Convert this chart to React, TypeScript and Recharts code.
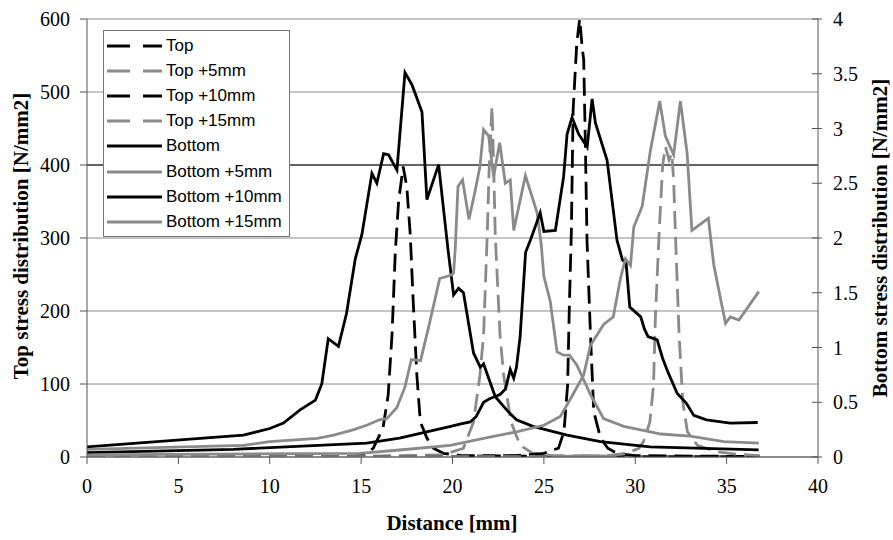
import { LineChart, Line, XAxis, YAxis, CartesianGrid, ReferenceLine, Legend } from 'recharts'

// distance [mm] vs stress; Top series on the left axis, Bottom series on the right axis
const xTicks = [0, 5, 10, 15, 20, 25, 30, 35, 40]
const topTicks = [0, 100, 200, 300, 400, 500, 600]
const bottomTicks = [0, 0.5, 1, 1.5, 2, 2.5, 3, 3.5, 4]

const top0: [number, number][] = [
    [0, 0.5], [10, 0.5], [14.5, 1], [15.2, 3], [15.66, 12], [16.2, 40], [16.48, 85], [16.69, 167], [16.87, 281],
    [17.05, 350], [17.3, 398], [17.5, 370], [17.69, 304], [17.85, 213], [18.05, 112], [18.24, 48], [18.6, 26],
    [18.95, 12], [19.5, 5], [20.5, 2], [25, 1], [30, 0.5], [36.8, 0.5],
]
const top5: [number, number][] = [
    [0, 0.5], [15, 1], [19.5, 3], [20.6, 12], [21.15, 48], [21.5, 112], [21.7, 167], [21.9, 304], [22.0, 390],
    [22.1, 450], [22.16, 480], [22.25, 400], [22.34, 304], [22.6, 167], [22.8, 112], [23.2, 48], [23.7, 16],
    [24.4, 5], [25.5, 2], [30, 1], [36.8, 0.5],
]
const top10: [number, number][] = [
    [0, 0.3], [20, 0.5], [23.5, 2], [25, 5], [25.4, 9], [25.8, 12], [26.1, 35], [26.3, 99], [26.4, 213],
    [26.5, 304], [26.6, 475], [26.8, 567], [26.96, 600], [27.1, 560], [27.18, 544], [27.27, 430], [27.36, 297],
    [27.55, 167], [27.73, 62], [28.1, 26], [28.5, 12], [29, 5], [30, 2], [36.8, 0.5],
]
const top15: [number, number][] = [
    [0, 0.3], [25, 0.5], [28.5, 2], [29.5, 5], [30.2, 12], [30.45, 21], [30.8, 48], [31.0, 99], [31.1, 190],
    [31.3, 304], [31.5, 400], [31.65, 425], [31.85, 407], [32.0, 416], [32.1, 380], [32.2, 304], [32.4, 167],
    [32.6, 76], [32.85, 35], [33.4, 16], [34.5, 7], [35.5, 4], [36.8, 2],
]

const bottom0: [number, number][] = [
    [0, 0.093], [8.56, 0.2], [10, 0.26], [10.75, 0.31], [11.66, 0.43], [12.5, 0.52], [12.85, 0.67], [13.2, 1.08],
    [13.76, 1.01], [14.2, 1.31], [14.68, 1.81], [15.04, 2.03], [15.59, 2.59], [15.86, 2.5], [16.23, 2.77],
    [16.5, 2.76], [16.96, 2.62], [17.4, 3.51], [17.78, 3.4], [18.33, 3.15], [18.6, 2.35], [19.24, 2.67],
    [19.75, 1.9], [20.06, 1.48], [20.33, 1.54], [20.6, 1.5], [21.15, 0.95], [21.52, 0.82], [21.7, 0.85],
    [22.34, 0.55], [23.07, 0.41], [23.5, 0.34], [24.4, 0.28], [26.27, 0.2], [28.1, 0.14], [30.8, 0.093],
    [36.75, 0.065],
]
const bottom5: [number, number][] = [
    [0, 0.07], [8.56, 0.107], [10, 0.14], [12.6, 0.17], [13.5, 0.2], [14.6, 0.25], [15.3, 0.29], [16, 0.34],
    [16.4, 0.35], [16.95, 0.45], [17.4, 0.64], [17.75, 0.89], [18.25, 0.88], [18.7, 1.19], [19.3, 1.63],
    [19.9, 1.66], [20.06, 1.68], [20.15, 1.9], [20.3, 2.47], [20.55, 2.53], [20.9, 2.17], [21.2, 2.4],
    [21.5, 2.65], [21.7, 2.99], [21.98, 2.93], [22.25, 2.56], [22.58, 2.87], [22.89, 2.5], [23.16, 2.53],
    [23.35, 2.07], [23.99, 2.57], [24.63, 2.23], [24.85, 1.95], [25.0, 1.65], [25.35, 1.42], [25.72, 0.96],
    [26.08, 0.93], [26.4, 0.93], [26.8, 0.84], [27.55, 0.57], [28.27, 0.35], [29.37, 0.28], [30.83, 0.23],
    [31.4, 0.21], [33, 0.19], [34.85, 0.14], [36.76, 0.127],
]
const bottom10: [number, number][] = [
    [0, 0.04], [8, 0.07], [15.3, 0.127], [17.1, 0.173], [19.9, 0.28], [20.4, 0.3], [20.97, 0.32], [21.3, 0.37],
    [21.7, 0.5], [22.0, 0.53], [22.3, 0.55], [22.6, 0.57], [22.9, 0.62], [23.16, 0.8], [23.35, 0.72],
    [23.5, 0.82], [23.7, 1.1], [24.0, 1.87], [24.26, 1.98], [24.8, 2.23], [25.0, 2.06], [25.63, 2.07],
    [26.08, 2.56], [26.27, 2.95], [26.54, 3.1], [26.9, 2.95], [27.37, 2.83], [27.64, 3.27], [27.82, 3.05],
    [28.46, 2.71], [29.0, 1.98], [29.3, 1.8], [29.5, 1.77], [29.7, 1.37], [30.3, 1.28], [30.5, 1.17],
    [30.7, 1.1], [31.2, 1.07], [31.5, 0.9], [31.8, 0.77], [32.3, 0.58], [32.8, 0.49], [33.2, 0.38],
    [33.9, 0.34], [35.2, 0.31], [36.7, 0.315],
]
const bottom15: [number, number][] = [
    [0, 0.02], [14.95, 0.033], [17.1, 0.064], [19.88, 0.107], [21.7, 0.17], [23.5, 0.23], [25, 0.29],
    [25.9, 0.37], [26.45, 0.53], [27.18, 0.75], [27.55, 1.02], [28.27, 1.21], [28.8, 1.28], [29.19, 1.63],
    [29.46, 1.81], [29.74, 1.75], [29.92, 2.1], [30.38, 2.29], [30.83, 2.8], [31.34, 3.25], [31.65, 2.93],
    [32.1, 2.76], [32.47, 3.25], [32.84, 2.77], [33.1, 2.07], [34.0, 2.18], [34.3, 1.75], [34.94, 1.22],
    [35.2, 1.28], [35.67, 1.25], [36.76, 1.51],
]

const BLACK = '#000000'
const GREY = '#8a8a8a'
const DASH = '18 8'
const SERIF = 'Liberation Serif, serif'
const SANS = 'Liberation Sans, Arial, sans-serif'

const series = [
    { name: 'Top', pts: top0, color: BLACK, dashed: true, axis: 'top' },
    { name: 'Top +5mm', pts: top5, color: GREY, dashed: true, axis: 'top' },
    { name: 'Top +10mm', pts: top10, color: BLACK, dashed: true, axis: 'top' },
    { name: 'Top +15mm', pts: top15, color: GREY, dashed: true, axis: 'top' },
    { name: 'Bottom', pts: bottom0, color: BLACK, dashed: false, axis: 'bottom' },
    { name: 'Bottom +5mm', pts: bottom5, color: GREY, dashed: false, axis: 'bottom' },
    { name: 'Bottom +10mm', pts: bottom10, color: BLACK, dashed: false, axis: 'bottom' },
    { name: 'Bottom +15mm', pts: bottom15, color: GREY, dashed: false, axis: 'bottom' },
]

const tickStyle = { fill: '#000', fontSize: 20, fontFamily: SERIF, style: { fontFamily: SERIF } }

const LegendBox = () => (
    <div
        style={{
            border: '1px solid #777',
            background: '#fff',
            width: 185,
            height: 203,
            paddingTop: 2,
            boxSizing: 'content-box',
            fontFamily: SANS,
            fontSize: 17,
            color: '#000',
        }}
    >
        {series.map((s) => (
            <div key={s.name} style={{ display: 'flex', alignItems: 'center', height: 25.2 }}>
                <svg width={62} height={10}>
                    <line
                        x1={3}
                        x2={58}
                        y1={5}
                        y2={5}
                        stroke={s.color}
                        strokeWidth={3}
                        strokeDasharray={s.dashed ? '23 13' : undefined}
                    />
                </svg>
                <span style={{ lineHeight: '20px' }}>{s.name}</span>
            </div>
        ))}
    </div>
)

const RightTick = (props: any) => {
    const { x, y, payload } = props
    return (
        <g>
            <line x1={x - 21} x2={x - 11} y1={y} y2={y} stroke="#555" />
            <text
                x={x}
                y={y}
                dy="0.35em"
                textAnchor="start"
                fill="#000"
                fontSize={20}
                fontFamily={SERIF}
                style={{ fontFamily: SERIF }}
            >
                {String(payload.value)}
            </text>
        </g>
    )
}

const titleProps = {
    fontSize: 21,
    fontWeight: 'bold',
    fontFamily: SERIF,
    fill: '#000',
    style: { fontFamily: SERIF },
}

export default function App() {
    return (
        <div
            style={{
                position: 'absolute',
                left: 0,
                top: 0,
                width: 893,
                height: 540,
                background: '#fff',
                fontFamily: SERIF,
            }}
        >
            <LineChart width={893} height={540} margin={{ top: 19, right: 0, bottom: 0, left: 0 }} style={{ fontFamily: SERIF }}>
                <CartesianGrid yAxisId="top" vertical={false} stroke="#8a8a8a" strokeWidth={1} />
                <XAxis
                    type="number"
                    dataKey="x"
                    domain={[0, 40]}
                    ticks={xTicks}
                    height={83}
                    stroke="#555"
                    tickSize={7}
                    tickMargin={15}
                    tick={tickStyle}
                    allowDataOverflow
                    label={{
                        content: () => (
                            <text x={452} y={530} textAnchor="middle" {...titleProps}>
                                Distance [mm]
                            </text>
                        ),
                    }}
                />
                <YAxis
                    yAxisId="top"
                    orientation="left"
                    width={87}
                    domain={[0, 600]}
                    ticks={topTicks}
                    stroke="#555"
                    tickSize={7}
                    tickMargin={10}
                    tick={tickStyle}
                    allowDataOverflow
                    label={{
                        content: () => (
                            <text x={21} y={236} transform="rotate(-90 21 236)" dy="0.35em" textAnchor="middle" {...titleProps}>
                                Top stress distribution [N/mm2]
                            </text>
                        ),
                    }}
                />
                <YAxis
                    yAxisId="bottom"
                    orientation="right"
                    width={75}
                    domain={[0, 4]}
                    ticks={bottomTicks}
                    stroke="#555"
                    tickSize={4}
                    tickMargin={11}
                    tickLine={false}
                    tick={<RightTick />}
                    allowDataOverflow
                    label={{
                        content: () => (
                            <text x={880} y={238} transform="rotate(-90 880 238)" dy="0.35em" textAnchor="middle" {...titleProps}>
                                Bottom stress distribution [N/mm2]
                            </text>
                        ),
                    }}
                />
                <ReferenceLine yAxisId="top" y={400} stroke="#000" strokeWidth={1} />

                {series.map((s) => (
                    <Line
                        key={s.name}
                        yAxisId={s.axis}
                        name={s.name}
                        data={s.pts.map(([x, y]) => ({ x, y }))}
                        dataKey="y"
                        type="linear"
                        stroke={s.color}
                        strokeWidth={2.8}
                        strokeDasharray={s.dashed ? DASH : undefined}
                        dot={false}
                        activeDot={false}
                        isAnimationActive={false}
                    />
                ))}

                <Legend
                    layout="vertical"
                    align="center"
                    verticalAlign="middle"
                    content={<LegendBox />}
                    wrapperStyle={{ left: 103, top: 30, width: 187, height: 207 }}
                />
            </LineChart>
        </div>
    )
}
